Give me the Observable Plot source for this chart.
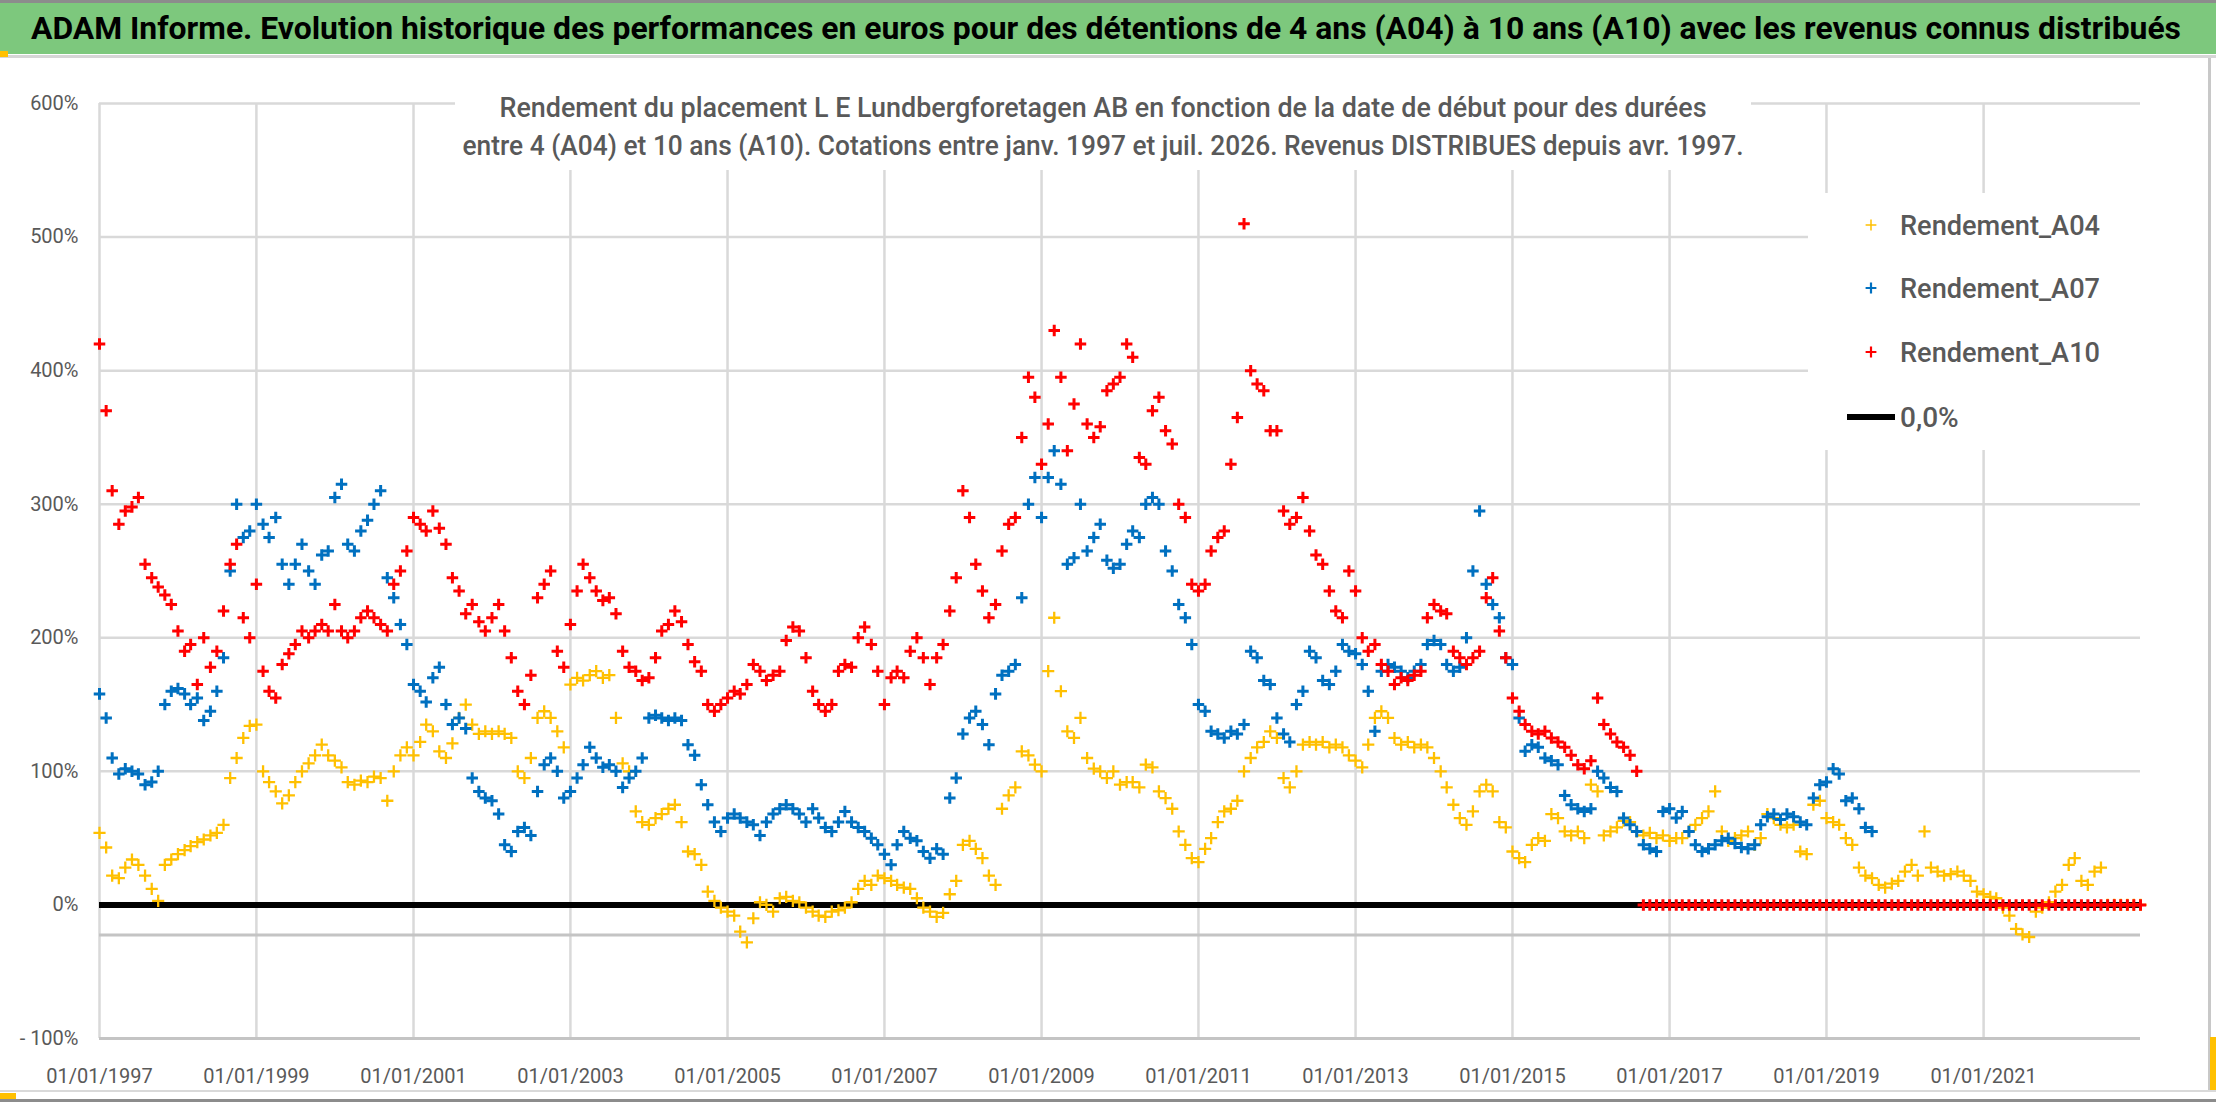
<!DOCTYPE html>
<html><head><meta charset="utf-8">
<script src="https://cdn.jsdelivr.net/npm/d3@7"></script>
<script src="https://cdn.jsdelivr.net/npm/@observablehq/plot@0.6"></script>
<style>
html,body{margin:0;padding:0;background:#fff;}
#wrap{position:relative;width:2216px;height:1102px;overflow:hidden;background:#fff;}
#wrap > svg{position:absolute;left:0;top:0;}
</style></head><body><div id="wrap"></div>
<script>
const title = "ADAM Informe. Evolution historique des performances en euros pour des détentions de 4 ans (A04) à 10 ans (A10) avec les revenus connus distribués";
const subtitleLines = [
  "Rendement du placement L E Lundbergforetagen AB en fonction de la date de début pour des durées",
  "entre 4 (A04) et 10 ans (A10). Cotations entre janv. 1997 et juil. 2026. Revenus DISTRIBUES depuis avr. 1997."
];
const seriesNames = ["Rendement_A04", "Rendement_A07", "Rendement_A10"];
const seriesColors = ["#FFC000", "#0070C0", "#FF0000"];
const zeroLabel = "0,0%";
const firstYear = 1997;            // monthly points, first one = January 1997
const xDomainYears = [1997, 2023];
const xTickYears = [1997, 1999, 2001, 2003, 2005, 2007, 2009, 2011, 2013, 2015, 2017, 2019, 2021];
const yTicks = [-100, 0, 100, 200, 300, 400, 500, 600];
const yTickLabels = ["- 100%", "0%", "100%", "200%", "300%", "400%", "500%", "600%"];
const axisCrossValue = -22.5;

// Rendement_A04 (%), monthly from Jan 1997
const a04 = [
  54, 43, 22, 20, 28, 34, 30, 22, 12, 3, 30, 34,
  38, 41, 44, 47, 49, 52, 54, 60, 95, 110, 125, 134,
  135, 100, 92, 85, 76, 82, 92, 100, 106, 112, 120, 112,
  108, 103, 92, 90, 93, 92, 96, 95, 78, 100, 112, 118,
  112, 122, 135, 130, 115, 110, 121, 140, 150, 135, 128, 130,
  128, 130, 128, 125, 100, 95, 110, 140, 145, 140, 130, 118,
  165, 170, 168, 172, 175, 170, 172, 140, 106, 100, 70, 62,
  60, 65, 68, 72, 75, 62, 40, 38, 30, 10, 3, -2,
  -5, -8, -20, -28, -10, 2, 0, -5, 5, 6, 3, 2,
  -2, -5, -8, -9, -5, -4, -2, 2, 12, 18, 15, 22,
  20, 18, 15, 13, 12, 5, -2, -5, -9, -6, 8, 18,
  45, 48, 42, 35, 22, 15, 72, 82, 88, 115, 112, 105,
  100, 175, 215, 160, 130, 125, 140, 110, 102, 100, 95, 100,
  90, 92, 92, 88, 105, 103, 85, 80, 72, 55, 45, 35,
  32, 42, 50, 62, 70, 72, 78, 100, 110, 118, 122, 130,
  125, 95, 88, 100, 120, 122, 120, 122, 118, 120, 118, 112,
  108, 103, 120, 140, 145, 140, 125, 120, 122, 118, 120, 118,
  110, 100, 88, 75, 65, 60, 70, 85, 90, 85, 62, 58,
  40, 35, 32, 45, 50, 48, 68, 65, 55, 52, 55, 50,
  90, 85, 52, 55, 58, 63, 62, 55, 52, 54, 50, 52,
  48, 50, 50, 55, 60, 65, 70, 85, 55, 48, 50, 52,
  55, 45, 50, 68, 65, 60, 58, 60, 40, 38, 75, 78,
  65, 62, 60, 50, 45, 28, 22, 20, 15, 13, 16, 18,
  25, 30, 22, 55, 28, 25, 22, 23, 25, 22, 18, 10,
  8, 6, 5, -2, -8, -18, -22, -24, -5, -2, 2, 10,
  15, 30, 35, 18, 15, 25, 28, 0, 0, 0, 0, 0,
  0
];
// Rendement_A07 (%), monthly from Jan 1997
const a07 = [
  158, 140, 110, 98, 102, 100, 98, 90, 92, 100, 150, 160,
  162, 158, 150, 155, 138, 145, 160, 185, 250, 300, 275, 280,
  300, 285, 275, 290, 255, 240, 255, 270, 250, 240, 262, 265,
  305, 315, 270, 265, 280, 288, 300, 310, 245, 230, 210, 195,
  165, 160, 152, 170, 178, 150, 135, 140, 132, 95, 85, 80,
  78, 68, 45, 40, 55, 58, 52, 85, 105, 110, 100, 80,
  85, 95, 105, 118, 110, 103, 105, 100, 88, 95, 100, 110,
  140, 142, 140, 138, 140, 138, 120, 112, 90, 75, 62, 55,
  65, 68, 65, 62, 60, 52, 62, 68, 72, 75, 72, 68,
  62, 72, 65, 58, 55, 62, 70, 62, 58, 55, 50, 45,
  38, 30, 45, 55, 50, 48, 40, 35, 42, 38, 80, 95,
  128, 140, 145, 135, 120, 158, 172, 175, 180, 230, 300, 320,
  290, 320, 340, 315, 255, 260, 300, 265, 275, 285, 258, 252,
  255, 270, 280, 275, 300, 305, 300, 265, 250, 225, 215, 195,
  150, 145, 130, 128, 125, 130, 128, 135, 190, 185, 168, 165,
  140, 128, 122, 150, 160, 190, 185, 168, 165, 175, 195, 190,
  188, 180, 160, 130, 175, 180, 178, 175, 170, 175, 180, 195,
  198, 195, 180, 175, 178, 200, 250, 295, 240, 225, 215, 185,
  180, 140, 115, 120, 118, 110, 108, 105, 82, 75, 72, 70,
  72, 100, 95, 88, 85, 65, 60, 55, 45, 42, 40, 70,
  72, 65, 70, 55, 45, 40, 42, 45, 48, 50, 46, 43,
  42, 45, 60, 66, 68, 64, 68, 66, 62, 60, 80, 90,
  92, 102, 98, 78, 80, 72, 58, 55
];
// Rendement_A10 (%), monthly from Jan 1997 (0 once no 10-year window is complete)
const a10 = [
  420, 370, 310, 285, 295, 298, 305, 255, 245, 238, 232, 225,
  205, 190, 195, 165, 200, 178, 190, 220, 255, 270, 215, 200,
  240, 175, 160, 155, 180, 188, 195, 205, 200, 205, 210, 205,
  225, 205, 200, 205, 215, 220, 215, 210, 205, 240, 250, 265,
  290, 285, 280, 295, 282, 270, 245, 235, 218, 225, 212, 205,
  215, 225, 205, 185, 160, 150, 172, 230, 240, 250, 190, 178,
  210, 235, 255, 245, 235, 228, 230, 218, 190, 178, 175, 168,
  170, 185, 205, 210, 220, 212, 195, 182, 175, 150, 145, 150,
  155, 160, 158, 165, 180, 175, 168, 172, 175, 198, 208, 205,
  185, 160, 150, 145, 150, 175, 180, 178, 200, 208, 195, 175,
  150, 170, 175, 170, 190, 200, 185, 165, 185, 195, 220, 245,
  310, 290, 255, 235, 215, 225, 265, 285, 290, 350, 395, 380,
  330, 360, 430, 395, 340, 375, 420, 360, 350, 358, 385, 390,
  395, 420, 410, 335, 330, 370, 380, 355, 345, 300, 290, 240,
  235, 240, 265, 275, 280, 330, 365, 510, 400, 390, 385, 355,
  355, 295, 285, 290, 305, 280, 262, 255, 235, 220, 215, 250,
  235, 200, 190, 195, 180, 175, 165, 170, 168, 172, 175, 215,
  225, 220, 218, 190, 185, 180, 185, 190, 230, 245, 205, 185,
  155, 145, 135, 130, 128, 130, 125, 122, 118, 112, 105, 102,
  108, 155, 135, 128, 122, 118, 112, 100, 0, 0, 0, 0,
  0, 0, 0, 0, 0, 0, 0, 0, 0, 0, 0, 0,
  0, 0, 0, 0, 0, 0, 0, 0, 0, 0, 0, 0,
  0, 0, 0, 0, 0, 0, 0, 0, 0, 0, 0, 0,
  0, 0, 0, 0, 0, 0, 0, 0, 0, 0, 0, 0,
  0, 0, 0, 0, 0, 0, 0, 0, 0, 0, 0, 0,
  0, 0, 0, 0, 0, 0, 0, 0, 0, 0, 0, 0,
  0
];

const toRows = (arr) => arr.map((v, i) => ({date: new Date(Date.UTC(firstYear, i, 1)), v}));
const series = [a04, a07, a10].map(toRows);
const xTicks = xTickYears.map(y => new Date(Date.UTC(y, 0, 1)));
const fmtDate = d3.utcFormat("%d/%m/%Y");
const yLab = new Map(yTicks.map((t, i) => [t, yTickLabels[i]]));

const W = 2216, H = 1102;
const chart = Plot.plot({
  width: W, height: H,
  marginLeft: 99, marginRight: 76, marginTop: 103, marginBottom: 64,
  style: {fontFamily: "Roboto, 'Open Sans', sans-serif", fontSize: "20px", color: "#595959", background: "transparent", overflow: "visible"},
  x: {type: "utc", domain: xDomainYears.map(y => new Date(Date.UTC(y, 0, 1)))},
  y: {domain: [-100, 600]},
  marks: [
    Plot.ruleY(yTicks, {stroke: "#d9d9d9", strokeWidth: 2.5}),
    Plot.ruleX(xTicks, {stroke: "#d9d9d9", strokeWidth: 2.5}),
    Plot.ruleY([-100, axisCrossValue], {stroke: "#c4c4c4", strokeWidth: 3}),
    Plot.ruleY([0], {stroke: "#000", strokeWidth: 6}),
    Plot.dot(series[0], {x: "date", y: "v", symbol: "plus", stroke: seriesColors[0], r: 4, strokeWidth: 2.3}),
    Plot.dot(series[1], {x: "date", y: "v", symbol: "plus", stroke: seriesColors[1], r: 3.8, strokeWidth: 3}),
    Plot.dot(series[2], {x: "date", y: "v", symbol: "plus", stroke: seriesColors[2], r: 3.8, strokeWidth: 3}),
    Plot.axisY({ticks: yTicks, tickSize: 0, tickPadding: 21, tickFormat: d => yLab.get(d), fontSize: 20, label: null}),
    Plot.axisX({ticks: xTicks, tickSize: 0, tickPadding: 30, tickFormat: fmtDate, fontSize: 20, label: null})
  ]
});
const wrap = document.getElementById("wrap");
wrap.appendChild(chart);

// Overlay: title bar, chart title, legend, frame decorations
const ov = d3.create("svg").attr("width", W).attr("height", H)
  .style("font-family", "Roboto, 'Open Sans', sans-serif");
ov.append("rect").attr("x", 0).attr("y", 0).attr("width", W).attr("height", 3).attr("fill", "#8c8c8c");
ov.append("rect").attr("x", 0).attr("y", 3).attr("width", W).attr("height", 51).attr("fill", "#7DC87D");
ov.append("rect").attr("x", 0).attr("y", 55).attr("width", W).attr("height", 3).attr("fill", "#d6d6d6");
ov.append("rect").attr("x", 0).attr("y", 51).attr("width", 8).attr("height", 6).attr("fill", "#FFC000");
ov.append("text").attr("x", 31).attr("y", 39).attr("font-size", 31).attr("font-weight", "bold").attr("fill", "#000")
  .attr("textLength", 2150).attr("lengthAdjust", "spacingAndGlyphs").text(title);

// chart title (white box over gridlines)
ov.append("rect").attr("x", 455).attr("y", 60).attr("width", 1296).attr("height", 110).attr("fill", "#fff");
const subW = [1207, 1281], subY = [117, 155];
subtitleLines.forEach((s, i) => {
  ov.append("text").attr("x", 1103).attr("y", subY[i]).attr("text-anchor", "middle").attr("font-size", 27)
    .attr("font-weight", 500).attr("fill", "#595959").attr("textLength", subW[i]).attr("lengthAdjust", "spacingAndGlyphs").text(s);
});

// legend
ov.append("rect").attr("x", 1808).attr("y", 193).attr("width", 332).attr("height", 257).attr("fill", "#fff");
const legY = [225, 288, 352];
seriesNames.forEach((n, i) => {
  ov.append("path").attr("transform", `translate(1871,${legY[i]})`)
    .attr("d", d3.symbol(d3.symbolPlus, 40)()).attr("stroke", seriesColors[i]).attr("stroke-width", i === 0 ? 1.5 : 2.2).attr("fill", "none");
  ov.append("text").attr("x", 1900).attr("y", legY[i] + 10).attr("font-size", 28).attr("font-weight", 500)
    .attr("fill", "#595959").attr("textLength", 200).attr("lengthAdjust", "spacingAndGlyphs").text(n);
});
ov.append("line").attr("x1", 1847).attr("x2", 1895).attr("y1", 417).attr("y2", 417).attr("stroke", "#000").attr("stroke-width", 6);
ov.append("text").attr("x", 1900).attr("y", 427).attr("font-size", 28).attr("font-weight", 500).attr("fill", "#595959").text(zeroLabel);

// outer frame bits
ov.append("rect").attr("x", 2208).attr("y", 58).attr("width", 3).attr("height", 1034).attr("fill", "#c8c8c8");
ov.append("rect").attr("x", 2210).attr("y", 1037).attr("width", 6).attr("height", 55).attr("fill", "#FFC000");
ov.append("rect").attr("x", 0).attr("y", 1090).attr("width", W).attr("height", 2).attr("fill", "#d9d9d9");
ov.append("rect").attr("x", 0).attr("y", 1093).attr("width", 16).attr("height", 6).attr("fill", "#FFC000");
ov.append("rect").attr("x", 0).attr("y", 1099).attr("width", W).attr("height", 3).attr("fill", "#8c8c8c");
wrap.appendChild(ov.node());
</script></body></html>
